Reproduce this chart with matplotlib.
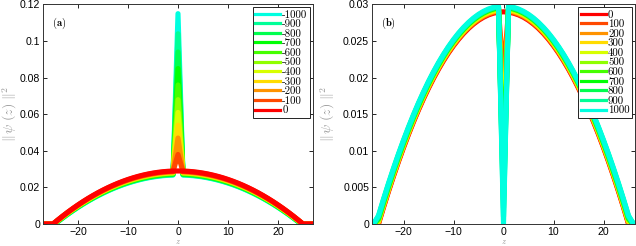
import numpy as np
import matplotlib
matplotlib.use("Agg")
import matplotlib.pyplot as plt
from matplotlib.colors import hsv_to_rgb

plt.rcParams['mathtext.fontset'] = 'cm'
plt.rcParams['font.family'] = ['Liberation Sans', 'DejaVu Sans']

# ---------------- data ----------------
z_grid = np.arange(-27, 28, 1)          # sample points along z

# panel (a): attractive defect
labels_a = [-1000, -900, -800, -700, -600, -500, -400, -300, -200, -100, 0]
center_a = [0.115, 0.104, 0.094, 0.085, 0.076, 0.068, 0.061, 0.054, 0.047, 0.038, 0.029]
bgpeak_a = [0.0268, 0.0270, 0.0272, 0.0274, 0.0277, 0.0279, 0.0281, 0.0283, 0.0285, 0.0288, 0.0290]
radius_a = [24.6, 24.65, 24.7, 24.75, 24.8, 24.85, 24.9, 24.9, 24.95, 25.0, 25.0]

# panel (b): repulsive defect
labels_b = [0, 100, 200, 300, 400, 500, 600, 700, 800, 900, 1000]
center_b = [0.029, 0.0205, 0.015, 0.011, 0.008, 0.006, 0.0045, 0.0033, 0.0022, 0.0010, 0.0]
bgpeak_b = [0.0290, 0.0291, 0.0292, 0.0293, 0.0294, 0.0295, 0.0296, 0.0296, 0.0297, 0.0297, 0.0298]
radius_b = [25.0, 25.05, 25.1, 25.15, 25.2, 25.25, 25.3, 25.35, 25.4, 25.45, 25.5]

hue_step = 0.048


def profile(bg, R, c):
    y = bg * (1 - (z_grid / R) ** 2)
    y = np.clip(y, 0, None)
    y[z_grid == 0] = c
    return y


fig = plt.figure(figsize=(6.36, 2.46), dpi=100)
W, H = 636, 246
axa = fig.add_axes([43 / W, (H - 224) / H, 270 / W, 219.5 / H])
axb = fig.add_axes([372 / W, (H - 224) / H, 263 / W, 219.5 / H])


def style(ax, xlim, ylim, yticks, yticklabels, tag, ylab_x):
    ax.set_xlim(*xlim)
    ax.set_ylim(*ylim)
    ax.set_xticks([-20, -10, 0, 10, 20])
    ax.set_xticklabels(['\u221220', '\u221210', '0', '10', '20'])
    ax.set_yticks(yticks)
    ax.set_yticklabels(yticklabels)
    ax.tick_params(direction='in', top=True, right=True, length=3, width=0.6,
                   labelsize=7.6, pad=2)
    for s in ax.spines.values():
        s.set_linewidth(0.7)
        s.set_color('#333333')
    ax.set_xlabel(r'$z$', fontsize=6, color='#999999', va='center')
    ax.xaxis.set_label_coords(0.5, -0.08)
    ax.set_ylabel(r'$\|\,\psi\;(z)\;\|^2$', fontsize=10, color='#999999',
                  va='center')
    ax.yaxis.set_label_coords(ylab_x, 0.5)
    ax.text(0.035, 0.95, r'$\mathbf{(%s)}$' % tag, transform=ax.transAxes,
            fontsize=7.5, va='top', ha='left')


# panel (a)
n = len(labels_a)
for i, lab in enumerate(labels_a):
    k = n - 1 - i
    col = hsv_to_rgb([hue_step * k, 1, 1])
    axa.plot(z_grid, profile(bgpeak_a[i], radius_a[i], center_a[i]),
             color=col, lw=3.7, label=str(lab), solid_joinstyle='round')
style(axa, (-27, 27), (0, 0.12), [0, 0.02, 0.04, 0.06, 0.08, 0.1, 0.12],
      ['0', '0.02', '0.04', '0.06', '0.08', '0.1', '0.12'], 'a', -33 / 270)

# panel (b)
for i, lab in enumerate(labels_b):
    col = hsv_to_rgb([hue_step * i, 1, 1])
    axb.plot(z_grid, profile(bgpeak_b[i], radius_b[i], center_b[i]),
             color=col, lw=3.7, label=str(lab), solid_joinstyle='round')
style(axb, (-26.3, 26.3), (0, 0.03), [0, 0.005, 0.01, 0.015, 0.02, 0.025, 0.03],
      ['0', '0.005', '0.01', '0.015', '0.02', '0.025', '0.03'], 'b', -44 / 263)

for ax in (axa, axb):
    leg = ax.legend(loc='upper right', handlelength=2.3,
                    handletextpad=0.2, labelspacing=0.0, borderpad=0.25,
                    borderaxespad=0.25, fancybox=False, framealpha=1,
                    prop={'family': 'cmr10', 'size': 7.8})
    leg.get_frame().set_edgecolor('#222222')
    leg.get_frame().set_linewidth(0.7)
    for h in leg.get_lines():
        h.set_linewidth(2.3)

fig.savefig('out.png', dpi=100)
